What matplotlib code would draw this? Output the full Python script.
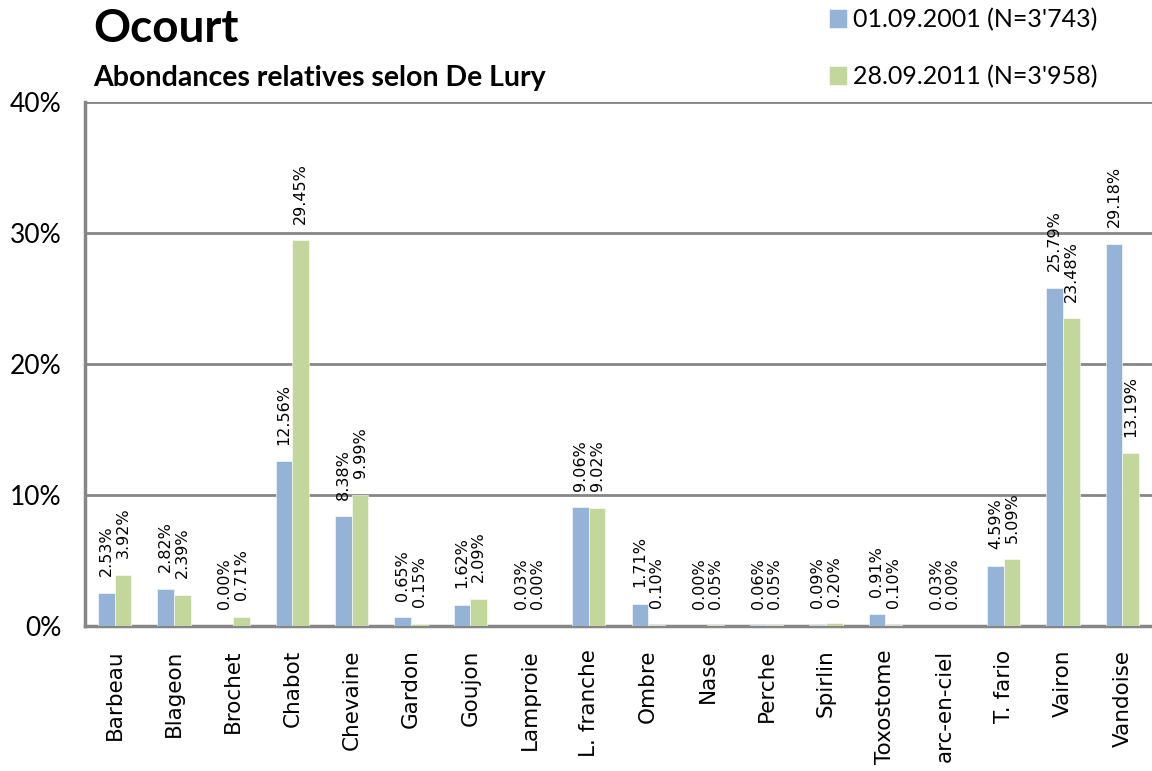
import numpy as np
import matplotlib.pyplot as plt
from matplotlib.ticker import FuncFormatter

especes = ['Barbeau', 'Blageon', 'Brochet', 'Chabot', 'Chevaine', 'Gardon',
           'Goujon', 'Lamproie', 'L. franche', 'Ombre', 'Nase', 'Perche',
           'Spirlin', 'Toxostome', 'arc-en-ciel', 'T. fario', 'Vairon', 'Vandoise']
ab_2001 = [2.53, 2.82, 0.00, 12.56, 8.38, 0.65, 1.62, 0.03, 9.06, 1.71,
           0.00, 0.06, 0.09, 0.91, 0.03, 4.59, 25.79, 29.18]
ab_2011 = [3.92, 2.39, 0.71, 29.45, 9.99, 0.15, 2.09, 0.00, 9.02, 0.10,
           0.05, 0.05, 0.20, 0.10, 0.00, 5.09, 23.48, 13.19]
label_2001 = "01.09.2001 (N=3'743)"
label_2011 = "28.09.2011 (N=3'958)"

bleu = '#95b3d7'
vert = '#c3d69b'
gris = '#868686'

fig = plt.figure(figsize=(11.52, 7.71), dpi=100)
ax = fig.add_axes([85/1152, 145/771, 1 - 85/1152, (626-102)/771])

x = np.arange(len(especes))
w = 0.28
b1 = ax.bar(x - w/2, ab_2001, w, color=bleu, edgecolor='white', linewidth=0.4, zorder=3)
b2 = ax.bar(x + w/2, ab_2011, w, color=vert, edgecolor='white', linewidth=0.4, zorder=3)

# etiquettes des valeurs
for bars, vals in [(b1, ab_2001), (b2, ab_2011)]:
    for r, v in zip(bars, vals):
        ax.annotate('%.2f%%' % v, (r.get_x() + r.get_width()/2, v),
                    xytext=(0, 12), textcoords='offset points',
                    rotation=90, ha='center', va='bottom',
                    fontsize=11.5, family='DejaVu Sans', zorder=4)

ax.set_xlim(-0.5, len(especes) - 0.5)
ax.set_ylim(0, 40)
ax.set_yticks([0, 10, 20, 30, 40])
ax.yaxis.set_major_formatter(FuncFormatter(lambda v, p: '%d%%' % v))
ax.yaxis.grid(True, color=gris, linewidth=2, zorder=0)
ax.set_xticks(x)
ax.set_xticklabels(especes, rotation=90, fontsize=15.5, family='DejaVu Sans')
ax.tick_params(axis='x', length=0, pad=17)
ax.tick_params(axis='y', length=0, pad=17)
for t in ax.get_yticklabels():
    t.set_family('Lato')
    t.set_fontsize(19)
for s in ['top', 'right']:
    ax.spines[s].set_visible(False)
for s in ['left', 'bottom']:
    ax.spines[s].set_color(gris)
    ax.spines[s].set_linewidth(2.5)

fig.text(93/1152, 1 - 29/771, 'Ocourt', fontsize=33, fontweight='bold',
         family='Lato', va='center', ha='left')
fig.text(93/1152, 1 - 78/771, 'Abondances relatives selon De Lury', fontsize=20.5,
         fontweight='bold', family='Lato', va='center', ha='left')

fig.legend([b1, b2], [label_2001, label_2011], loc='upper left',
           bbox_to_anchor=(829/1152, 1 - 8/771), frameon=False,
           borderpad=0, borderaxespad=0,
           prop={'family': 'Lato', 'size': 18}, handlelength=0.7,
           handleheight=0.75, handletextpad=0.25, labelspacing=1.35)

fig.savefig('out.png', dpi=100)
